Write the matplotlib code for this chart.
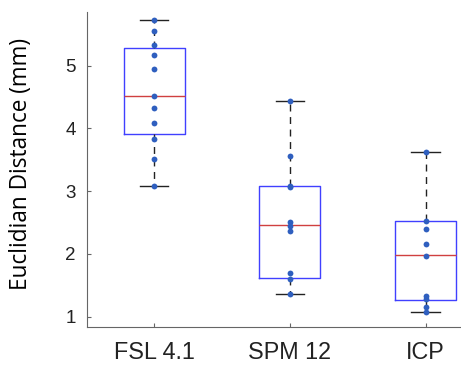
import matplotlib
matplotlib.use("Agg")
import matplotlib.pyplot as plt

labels = ["FSL 4.1", "SPM 12", "ICP"]

# individual distances (mm)
fsl = [5.73, 5.55, 5.33, 5.17, 4.94, 4.52, 4.33, 4.08, 3.84, 3.51, 3.08]
spm = [4.44, 3.56, 3.08, 3.06, 2.51, 2.44, 2.37, 1.69, 1.60, 1.36]
icp = [3.62, 2.53, 2.40, 2.16, 1.97, 1.33, 1.28, 1.15, 1.08]
points = [fsl, spm, icp]

# box statistics as drawn in the original
q1 = [3.91, 1.61, 1.27]
med = [4.52, 2.46, 1.98]
q3 = [5.29, 3.08, 2.52]
wlo = [3.08, 1.36, 1.08]
whi = [5.73, 4.44, 3.62]

fig = plt.figure(figsize=(4.61, 3.65), dpi=100)
ax = fig.add_axes([0.1887, 0.1041, 0.8113, 0.863])

stats = [dict(label=l, q1=a, med=m, q3=b, whislo=lo, whishi=hi, fliers=[])
         for l, a, m, b, lo, hi in zip(labels, q1, med, q3, wlo, whi)]
ax.bxp(stats, positions=[1, 2, 3], widths=0.45, showfliers=False,
       boxprops=dict(color="#4040ff", lw=1.0),
       medianprops=dict(color="#d04040", lw=1.0),
       whiskerprops=dict(color="#222222", lw=1.0, ls=(0, (5, 4))),
       capprops=dict(color="#222222", lw=1.0),
       capwidths=0.21)

for i, p in enumerate(points):
    ax.plot([i + 1] * len(p), p, "o", color="#2f5fbf", ms=4.2, mec="none", zorder=3)

ax.set_xlim(0.505, 3.26)
ax.set_ylim(0.836, 5.856)
ax.set_yticks([1, 2, 3, 4, 5])
ax.set_xticks([1, 2, 3])
ax.set_xticklabels(labels, fontfamily="Liberation Sans", fontsize=16.8)
for t in ax.get_yticklabels():
    t.set_fontfamily("Liberation Sans")
    t.set_fontsize(13.5)
ax.set_ylabel("Euclidian Distance (mm)", fontfamily="Open Sans", fontsize=16.3)
ax.yaxis.set_label_coords(-0.144, 0.517)

for s in ["top", "right"]:
    ax.spines[s].set_visible(False)
for s in ["left", "bottom"]:
    ax.spines[s].set_color("#666666")
    ax.spines[s].set_linewidth(0.8)
ax.tick_params(direction="in", length=3, color="#666666", labelcolor="#222222")
ax.tick_params(axis="y", pad=8)
ax.tick_params(axis="x", pad=10)

fig.savefig("out.png", dpi=100)
